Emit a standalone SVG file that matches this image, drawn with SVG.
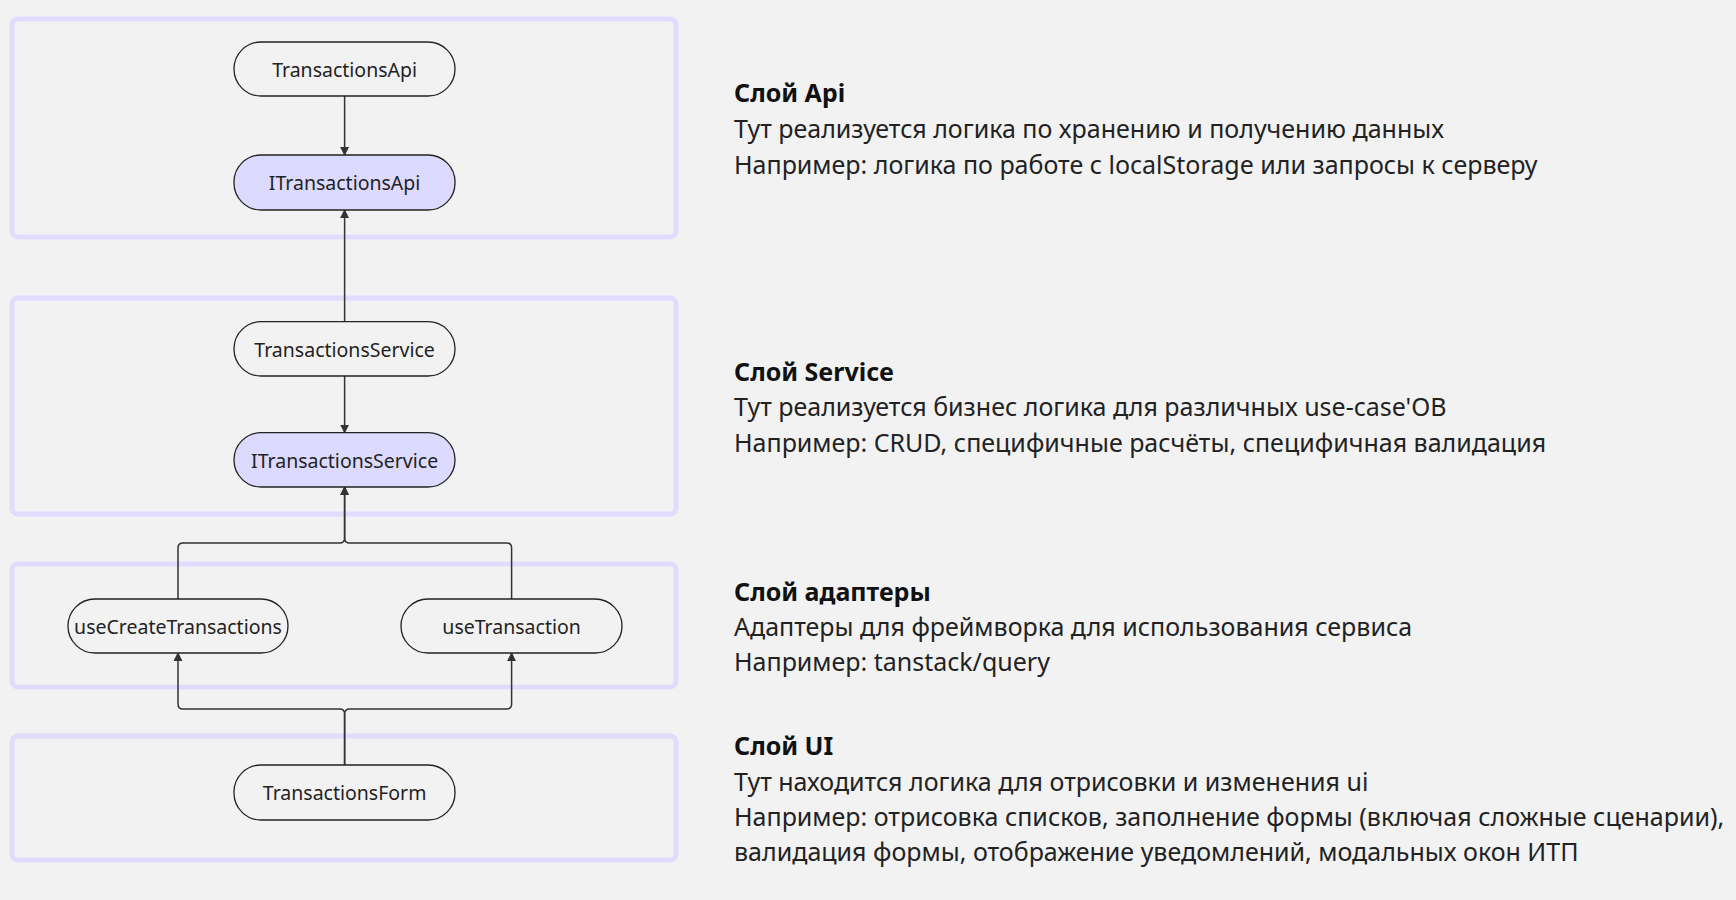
<svg xmlns="http://www.w3.org/2000/svg" width="1736" height="900" viewBox="0 0 1736 900">
<defs>
<marker id="arr" viewBox="0 0 10 10" refX="9" refY="5" markerWidth="9" markerHeight="9" markerUnits="userSpaceOnUse" orient="auto">
<path d="M0,0 L10,5 L0,10 z" fill="#333"/>
</marker>
</defs>
<style>
.bg{fill:#f2f2f2}
.cl{fill:none;stroke:#dfdcfd;stroke-width:5}
.nd{fill:#f2f2f2;stroke:#222;stroke-width:1.3}
.ifc{fill:#dddaff;stroke:#222;stroke-width:1.3}
.lb{font-family:"Noto Sans","Open Sans",sans-serif;font-size:19.5px;fill:#222;text-anchor:middle;dominant-baseline:central}
.ed{fill:none;stroke:#333;stroke-width:1.5;marker-end:url(#arr)}
.tt{font-family:"Noto Sans","Open Sans",sans-serif;font-size:25px;font-weight:bold;fill:#111}
.tx{font-family:"Noto Sans","Open Sans",sans-serif;font-size:25px;fill:#222}
</style>
<rect class="bg" x="0" y="0" width="1736" height="900"/>
<g id="clusters">
<rect class="cl" x="12" y="19" width="664" height="218" rx="6"/>
<rect class="cl" x="12" y="298" width="664" height="216" rx="6"/>
<rect class="cl" x="12" y="564" width="664" height="123" rx="6"/>
<rect class="cl" x="12" y="736" width="664" height="124" rx="6"/>
</g>
<g id="connectors">
<path class="ed" d="M344.6,96 L344.6,155"/>
<path class="ed" d="M344.6,321.7 L344.6,210"/>
<path class="ed" d="M344.6,376 L344.6,432.7"/>
<path class="ed" d="M178,599 L178,548 Q178,543 183,543 L339.6,543 Q344.6,543 344.6,538 L344.6,487"/>
<path class="ed" d="M511.6,599 L511.6,548 Q511.6,543 506.6,543 L349.6,543 Q344.6,543 344.6,538 L344.6,487"/>
<path class="ed" d="M344.6,765 L344.6,714 Q344.6,709 339.6,709 L183,709 Q178,709 178,704 L178,653"/>
<path class="ed" d="M344.6,765 L344.6,714 Q344.6,709 349.6,709 L506.6,709 Q511.6,709 511.6,704 L511.6,653"/>
</g>
<g id="TransactionsApi"><rect class="nd" x="234" y="42" width="221" height="54" rx="27"/><text class="lb" x="344.6" y="69">TransactionsApi</text></g>
<g id="ITransactionsApi"><rect class="ifc" x="234" y="155" width="221" height="55" rx="27"/><text class="lb" x="344.6" y="182.5">ITransactionsApi</text></g>
<g id="TransactionsService"><rect class="nd" x="234" y="321.7" width="221" height="54.3" rx="27"/><text class="lb" x="344.6" y="349">TransactionsService</text></g>
<g id="ITransactionsService"><rect class="ifc" x="234" y="432.7" width="221" height="54.3" rx="27"/><text class="lb" x="344.6" y="460">ITransactionsService</text></g>
<g id="useCreateTransactions"><rect class="nd" x="68" y="599" width="220" height="54" rx="27"/><text class="lb" x="178" y="626">useCreateTransactions</text></g>
<g id="useTransaction"><rect class="nd" x="401" y="599" width="221" height="54" rx="27"/><text class="lb" x="511.6" y="626">useTransaction</text></g>
<g id="TransactionsForm"><rect class="nd" x="234" y="765" width="221" height="55" rx="27"/><text class="lb" x="344.6" y="792.5">TransactionsForm</text></g>
<g id="desc-api">
<text class="tt" x="734" y="102">Слой Api</text>
<text class="tx" x="734" y="138">Тут реализуется логика по хранению и получению данных</text>
<text class="tx" x="734" y="173.5">Например: логика по работе с localStorage или запросы к серверу</text>
</g>
<g id="desc-service">
<text class="tt" x="734" y="380.5">Слой Service</text>
<text class="tx" x="734" y="416">Тут реализуется бизнес логика для различных use-case'ОВ</text>
<text class="tx" x="734" y="451.5">Например: CRUD, специфичные расчёты, специфичная валидация</text>
</g>
<g id="desc-adapters">
<text class="tt" x="734" y="600.5">Слой адаптеры</text>
<text class="tx" x="734" y="635.5">Адаптеры для фреймворка для использования сервиса</text>
<text class="tx" x="734" y="671">Например: tanstack/query</text>
</g>
<g id="desc-ui">
<text class="tt" x="734" y="754.5">Слой UI</text>
<text class="tx" x="734" y="790.5">Тут находится логика для отрисовки и изменения ui</text>
<text class="tx" x="734" y="825.5">Например: отрисовка списков, заполнение формы (включая сложные сценарии),</text>
<text class="tx" x="734" y="861">валидация формы, отображение уведомлений, модальных окон ИТП</text>
</g>
</svg>
